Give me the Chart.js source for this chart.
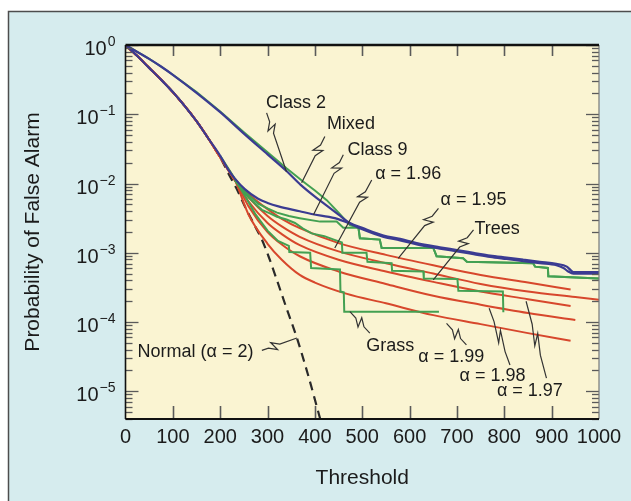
<!DOCTYPE html>
<html><head><meta charset="utf-8">
<script src="https://cdn.jsdelivr.net/npm/chart.js@4.4.1/dist/chart.umd.min.js"></script>
<style>html,body{margin:0;padding:0;background:#fff;}canvas{display:block;}</style>
</head><body>
<canvas id="c" width="631" height="501"></canvas>
<script>
// ---------- data (threshold, log10 of probability of false alarm) ----------
const xTickValues = [0,100,200,300,400,500,600,700,800,900,1000];
const yTickExponents = [0,-1,-2,-3,-4,-5];
const yTickBase = '10';
const yTickSuper = ['0','\u22121','\u22122','\u22123','\u22124','\u22125'];

const redHead = [[0,0],[25,-0.16],[50,-0.33],[75,-0.5],[100,-0.68],[125,-0.88],[150,-1.1],[175,-1.35],[200,-1.62],[231,-1.95]];

const class2Blue = [[0,0],[25,-0.1],[50,-0.2],[75,-0.31],[100,-0.43],[150,-0.69],[200,-0.97],[250,-1.28],[300,-1.58],[340,-1.82],[370,-2.02],[400,-2.19],[425,-2.32],[450,-2.45],[474,-2.57],
  [500,-2.64],[545,-2.75],[580,-2.8],[615,-2.86],[664,-2.92],[700,-2.96],[735,-3.0],[770,-3.04],[805,-3.07],[840,-3.1],[875,-3.13],[910,-3.16],[932,-3.2],[940,-3.25],[946,-3.28],[1000,-3.28]];
const class9Blue = [[0,0],[25,-0.16],[50,-0.33],[75,-0.5],[100,-0.68],[125,-0.88],[150,-1.1],[175,-1.35],[200,-1.6],[217,-1.8],[231,-1.93],[252,-2.08],[280,-2.22],[300,-2.28],[323,-2.33],[368,-2.40],[393,-2.44],[442,-2.5],[474,-2.58],
  [500,-2.66],[545,-2.77],[580,-2.82],[615,-2.88],[664,-2.94],[700,-2.98],[735,-3.02],[770,-3.06],[805,-3.09],[840,-3.12],[875,-3.15],[910,-3.18],[925,-3.22],[935,-3.27],[946,-3.3],[1000,-3.3]];
const mixedGreen = [[0,0],[25,-0.1],[50,-0.2],[75,-0.31],[100,-0.43],[150,-0.68],[200,-0.96],[250,-1.26],[300,-1.55],[340,-1.78],[375,-1.97],[400,-2.1],[425,-2.24],[450,-2.42],[474,-2.6],
  [492,-2.64],[495,-2.79],[537,-2.81],[541,-2.93],[650,-2.93],[657,-3.05],[713,-3.08],[721,-3.13],[861,-3.15],[865,-3.2],[892,-3.22],[893,-3.34],[1000,-3.37]];
const lowerGreen = [[200,-1.6],[231,-1.93],[250,-2.1],[265,-2.2],[280,-2.29],[300,-2.36],[320,-2.42],[345,-2.47],[368,-2.5],[411,-2.55],[446,-2.55],[460,-2.64],
  [492,-2.64],[495,-2.79],[537,-2.81],[541,-2.93],[650,-2.93],[657,-3.05],[713,-3.08],[721,-3.13],[861,-3.15],[865,-3.2],[892,-3.22],[893,-3.34],[1000,-3.37]];
const treesGreen = [[231,-1.95],[250,-2.12],[260,-2.2],[275,-2.3],[288,-2.38],[305,-2.43],[320,-2.48],[340,-2.52],[358,-2.57],[375,-2.65],[393,-2.72],[420,-2.76],[440,-2.81],[457,-2.85],[458,-3.0],[509,-3.0],[511,-3.13],[562,-3.15],[563,-3.26],[629,-3.27],[630,-3.37],[701,-3.38],[703,-3.55],[797,-3.56],[798,-3.86]];
const grassGreen = [[231,-1.95],[250,-2.15],[275,-2.45],[300,-2.68],[322,-2.83],[345,-2.9],[346,-2.99],[390,-3.0],[392,-3.22],[453,-3.24],[454,-3.56],[461,-3.57],[462,-3.85],[662,-3.85]];

const alpha195 = [[260,-2.15],[300,-2.37],[330,-2.51],[368,-2.645],[450,-2.86],[550,-3.03],[650,-3.18],[750,-3.32],[850,-3.43],[940,-3.53]];
const alpha196 = [[260,-2.2],[300,-2.47],[330,-2.62],[368,-2.77],[450,-2.98],[550,-3.15],[650,-3.3],[750,-3.45],[850,-3.56],[950,-3.64],[1000,-3.68]];
const alpha197 = [[260,-2.26],[300,-2.57],[330,-2.73],[368,-2.89],[450,-3.1],[550,-3.27],[650,-3.42],[750,-3.56],[850,-3.67],[940,-3.77]];
const alpha198 = [[260,-2.33],[300,-2.7],[330,-2.88],[368,-3.05],[450,-3.27],[550,-3.45],[650,-3.62],[750,-3.75],[850,-3.87],[950,-3.97]];
const alpha199 = [[260,-2.45],[300,-2.87],[330,-3.1],[368,-3.32],[400,-3.43],[466,-3.59],[550,-3.73],[650,-3.9],[750,-4.03],[850,-4.16],[940,-4.27]];
const normalAlpha2 = [[0,0],[25,-0.16],[50,-0.33],[75,-0.5],[100,-0.68],[125,-0.88],[150,-1.1],[175,-1.35],[200,-1.62],[217,-1.85],[235,-2.08],[252,-2.33],[270,-2.57],[288,-2.81],[302,-3.05],[319,-3.38],[340,-3.8],[362,-4.23],[385,-4.75],[404,-5.22],[412,-5.42]];

// annotation labels: text, text centre, leader from, leader to (threshold, log10 P)
const annotations = [
  {text:'Class 2', at:[360,-0.84], from:[298,-0.98], to:[340,-1.83], f:0.25, big:false},
  {text:'Mixed', at:[476,-1.14], from:[421,-1.32], to:[372,-1.99], f:0.3, big:false},
  {text:'Class 9', at:[532,-1.52], from:[460,-1.585], to:[397,-2.45], f:0.22, big:false},
  {text:'\u03B1 = 1.96', at:[597,-1.86], from:[520,-1.95], to:[442,-2.93], f:0.25, big:false},
  {text:'\u03B1 = 1.95', at:[735,-2.245], from:[661,-2.36], to:[576,-3.08], f:0.25, big:false},
  {text:'Trees', at:[785,-2.655], from:[735,-2.67], to:[650,-3.39], f:0.25, big:false},
  {text:'Grass', at:[559,-4.34], from:[516,-4.16], to:[474,-3.85], f:0.5, big:false},
  {text:'\u03B1 = 1.99', at:[688,-4.51], from:[720,-4.33], to:[678,-4.02], f:0.5, big:false},
  {text:'\u03B1 = 1.98', at:[775,-4.78], from:[812,-4.62], to:[768,-3.80], f:0.5, big:true},
  {text:'\u03B1 = 1.97', at:[854,-5.0], from:[889,-4.81], to:[846,-3.70], f:0.5, big:true},
  {text:'Normal (\u03B1 = 2)', at:[148,-4.44], from:[288,-4.41], to:[362,-4.23], f:0.35, big:false}
];

// ---------- helpers ----------
const FONT = "'Liberation Sans', Arial, Helvetica, sans-serif";
const TXT = '#1b1b1b';
const toPts = arr => arr.map(p => ({x: p[0], y: Math.pow(10, p[1])}));
const BLUE = '#3b3b92', GREEN = '#43a052', RED = '#d7472c';

function ds(label, arr, color, width, opts) {
  return Object.assign({label, data: toPts(arr), borderColor: color, borderWidth: width,
    pointRadius: 0, fill: false, tension: 0}, opts || {});
}

const datasets = [
  ds('Class 2', class2Blue, BLUE, 2.2, {cubicInterpolationMode:'monotone'}),
  ds('Class 9', class9Blue, BLUE, 2.2, {cubicInterpolationMode:'monotone'}),
  ds('Mixed', mixedGreen, GREEN, 2),
  ds('Lower green', lowerGreen, GREEN, 2),
  ds('Trees', treesGreen, GREEN, 2),
  ds('Grass', grassGreen, GREEN, 2),
  ds('\u03B1 = 1.95', redHead.concat(alpha195), RED, 2, {cubicInterpolationMode:'monotone'}),
  ds('\u03B1 = 1.96', redHead.concat(alpha196), RED, 2, {cubicInterpolationMode:'monotone'}),
  ds('\u03B1 = 1.97', redHead.concat(alpha197), RED, 2, {cubicInterpolationMode:'monotone'}),
  ds('\u03B1 = 1.98', redHead.concat(alpha198), RED, 2, {cubicInterpolationMode:'monotone'}),
  ds('\u03B1 = 1.99', redHead.concat(alpha199), RED, 2, {cubicInterpolationMode:'monotone'}),
  ds('Normal (\u03B1 = 2)', normalAlpha2, '#2a2a2a', 2.2, {borderDash:[9,6], cubicInterpolationMode:'monotone'})
];

const decorPlugin = {
  id: 'decor',
  beforeDraw(chart) {
    const {ctx, chartArea: a, width, height} = chart;
    ctx.save();
    ctx.fillStyle = '#ffffff'; ctx.fillRect(0, 0, width, height);
    ctx.fillStyle = '#d6ecee'; ctx.fillRect(8, 11, width - 8, height - 11);
    ctx.strokeStyle = '#4d4d4d'; ctx.lineWidth = 1.5; ctx.strokeRect(8.5, 11.5, width + 5, height + 5);
    ctx.fillStyle = '#faf4d2'; ctx.fillRect(a.left, a.top, a.right - a.left, a.bottom - a.top);
    ctx.restore();
  },
  afterDatasetsDraw(chart) {
    const {ctx, chartArea: a, scales} = chart;
    const xs = scales.x, ys = scales.y;
    const line = (x1, y1, x2, y2) => { ctx.beginPath(); ctx.moveTo(x1, y1); ctx.lineTo(x2, y2); ctx.stroke(); };
    ctx.save();
    ctx.strokeStyle = '#5a5a5a'; ctx.lineWidth = 1.6;
    xTickValues.forEach(v => {
      if (v <= xs.min || v >= xs.max) return;
      const px = Math.round(xs.getPixelForValue(v)) + 0.5;
      line(px, a.top, px, a.top + 11);
      line(px, a.bottom, px, a.bottom - 13);
    });
    ctx.lineWidth = 1.3;
    for (let e = 0; e >= -6; e--) {
      for (let m = 1; m <= 9; m++) {
        const v = m * Math.pow(10, e);
        if (v < ys.min || v > ys.max) continue;
        const py = Math.round(ys.getPixelForValue(v)) + 0.5;
        const len = m === 1 ? 13 : 7;
        line(a.left, py, a.left + len, py);
        line(a.right, py, a.right - len, py);
      }
    }
    // plot frame
    ctx.strokeStyle = '#777'; ctx.lineWidth = 1.2; line(a.right, a.top, a.right, a.bottom);
    ctx.strokeStyle = '#111'; ctx.lineWidth = 1.6; line(a.left, a.top, a.left, a.bottom);
    ctx.lineWidth = 2; line(a.left, a.bottom, a.right, a.bottom);
    ctx.lineWidth = 2.6; line(a.left, a.top, a.right, a.top);
    ctx.restore();
  },
  afterDraw(chart) {
    const {ctx, scales, chartArea: a} = chart;
    const xs = scales.x, ys = scales.y;
    const P = p => [xs.getPixelForValue(p[0]), ys.getPixelForValue(Math.pow(10, p[1]))];
    ctx.save();
    // y tick labels: 10 with superscript exponent
    ctx.fillStyle = TXT; ctx.textBaseline = 'alphabetic'; ctx.textAlign = 'left';
    yTickExponents.forEach((e, i) => {
      const py = ys.getPixelForValue(Math.pow(10, e));
      ctx.font = '14px ' + FONT;
      const sw = ctx.measureText(yTickSuper[i]).width;
      ctx.font = '20px ' + FONT;
      const bw = ctx.measureText(yTickBase).width;
      const right = a.left - 10;
      const base = py + 10;
      ctx.fillText(yTickBase, right - sw - bw - 1, base);
      ctx.font = '14px ' + FONT;
      ctx.fillText(yTickSuper[i], right - sw, base - 9);
    });
    // annotations with lightning-style leaders
    ctx.font = '18px ' + FONT;
    ctx.textAlign = 'center'; ctx.textBaseline = 'middle';
    annotations.forEach(an => {
      const [tx, ty] = P(an.at);
      ctx.fillStyle = TXT;
      ctx.fillText(an.text, tx, ty);
      const [x1, y1] = P(an.from), [x2, y2] = P(an.to);
      const dx = x2 - x1, dy = y2 - y1, L = Math.hypot(dx, dy);
      const ux = dx / L, uy = dy / L, nx = -uy, ny = ux;
      const cx = x1 + dx * an.f, cy = y1 + dy * an.f;
      const h = an.big ? 16 : 6, w = an.big ? 3 : 4.5;
      ctx.strokeStyle = '#333'; ctx.lineWidth = 1.2;
      ctx.beginPath();
      ctx.moveTo(x1, y1);
      ctx.lineTo(cx - ux * h, cy - uy * h);
      ctx.lineTo(cx + nx * w + ux * h * 0.35, cy + ny * w + uy * h * 0.35);
      ctx.lineTo(cx - nx * w - ux * h * 0.35, cy - ny * w - uy * h * 0.35);
      ctx.lineTo(cx + ux * h, cy + uy * h);
      ctx.lineTo(x2, y2);
      ctx.stroke();
    });
    ctx.restore();
  }
};

new Chart(document.getElementById('c'), {
  type: 'line',
  data: {datasets},
  plugins: [decorPlugin],
  options: {
    responsive: false, animation: false, devicePixelRatio: 1,
    layout: {padding: {left: 0, top: 45, right: 32, bottom: 0}},
    plugins: {legend: {display: false}, tooltip: {enabled: false}},
    scales: {
      x: {
        type: 'linear', min: 0, max: 1000,
        afterBuildTicks: s => { s.ticks = xTickValues.map(v => ({value: v})); },
        afterFit: s => { s.height = 82; },
        grid: {display: false, drawTicks: false}, border: {display: false},
        ticks: {autoSkip: false, maxRotation: 0, padding: 6, color: TXT, font: {family: FONT, size: 20},
          callback: v => String(v)},
        title: {display: true, text: 'Threshold', color: TXT, font: {family: FONT, size: 21}, padding: {top: 0, bottom: 10.4}}
      },
      y: {
        type: 'logarithmic', min: Math.pow(10, -5.4), max: 1,
        afterBuildTicks: s => { s.ticks = yTickExponents.map(e => ({value: Math.pow(10, e)})); },
        afterFit: s => { s.width = 125.5; },
        grid: {display: false, drawTicks: false}, border: {display: false},
        ticks: {display: false},
        title: {display: true, text: 'Probability of False Alarm', color: TXT, font: {family: FONT, size: 21}, padding: {top: 21, bottom: 0}}
      }
    }
  }
});
</script>
</body></html>
